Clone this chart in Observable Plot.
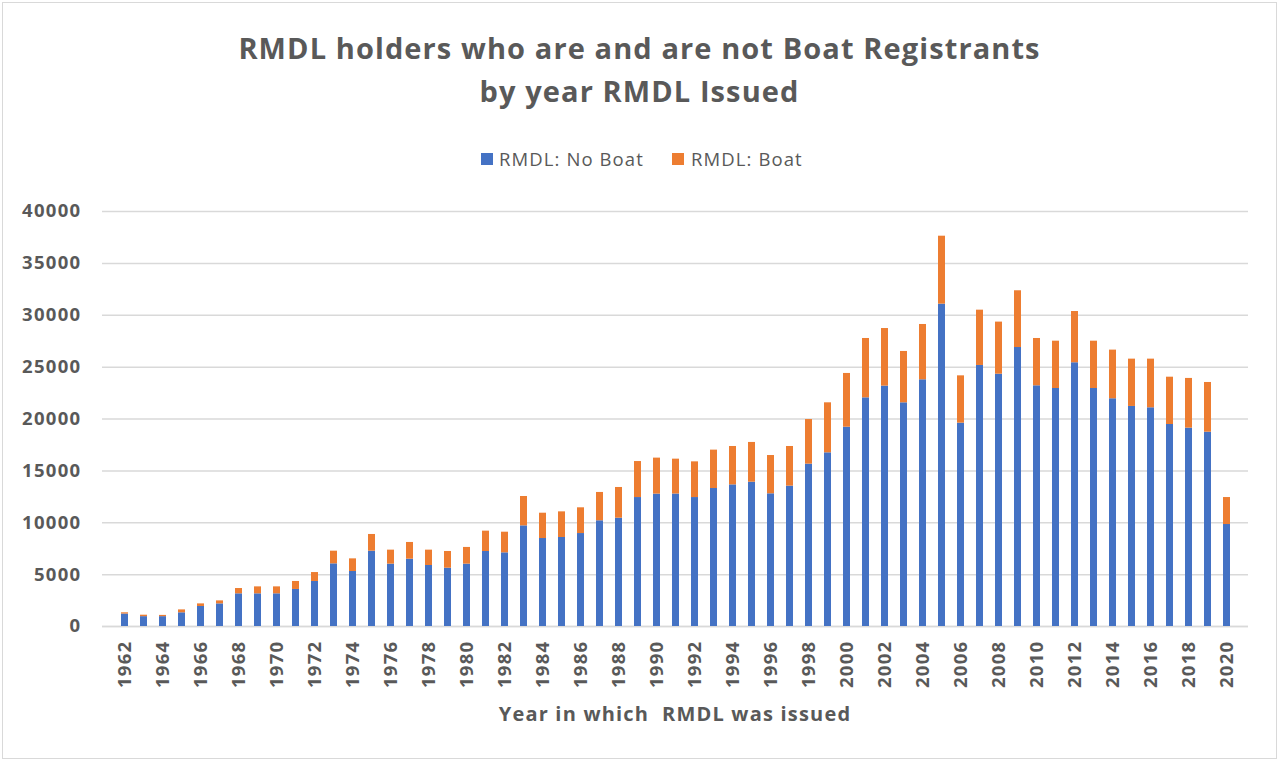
<!DOCTYPE html>
<html>
<head>
<meta charset="utf-8">
<script src="https://cdn.jsdelivr.net/npm/d3@7"></script>
<script src="https://cdn.jsdelivr.net/npm/@observablehq/plot@0.6"></script>
<style>
  body { margin: 0; background: #fff; font-family: "Open Sans", sans-serif; color: #595959; }
  #frame { position: absolute; left: 2px; top: 2px; width: 1275px; height: 757px; border: 1px solid #d9d9d9; box-sizing: border-box; }
  #title { position: absolute; left: 1px; width: 1277px; top: 26px; text-align: center; font-weight: 700; font-size: 29px; line-height: 43px; letter-spacing: 1.1px; }
  .sw { position: absolute; width: 12px; height: 12px; top: 153px; }
  .lt { position: absolute; top: 149px; font-size: 18.5px; line-height: 20px; letter-spacing: 1.1px; white-space: nowrap; }
  #chart { position: absolute; left: 0; top: 190px; }
  #xtitle { position: absolute; left: 0; width: 1350px; top: 702px; text-align: center; white-space: pre; font-weight: 700; font-size: 20px; line-height: 24px; letter-spacing: 1.2px; }
</style>
</head>
<body>
<div id="frame"></div>
<div id="title">RMDL holders who are and are not Boat Registrants<br>by year RMDL Issued</div>
<div id="legend"></div>
<div id="chart"></div>
<div id="xtitle">Year in which  RMDL was issued</div>
<script>
const years = [1962,1963,1964,1965,1966,1967,1968,1969,1970,1971,1972,1973,1974,1975,1976,1977,1978,1979,1980,1981,1982,1983,1984,1985,1986,1987,1988,1989,1990,1991,1992,1993,1994,1995,1996,1997,1998,1999,2000,2001,2002,2003,2004,2005,2006,2007,2008,2009,2010,2011,2012,2013,2014,2015,2016,2017,2018,2019,2020];
const noBoat = [1200,950,950,1320,1930,2180,3150,3150,3150,3570,4340,6040,5300,7260,6010,6490,5880,5620,6010,7230,7100,9700,8480,8580,8960,10190,10440,12430,12760,12770,12430,13300,13650,13910,12790,13530,15650,16740,19210,22040,23170,21560,23780,31070,19600,25160,24320,26890,23200,22940,25420,22940,21950,21210,21080,19470,19120,18730,9830];
const boat = [120,140,120,280,250,290,510,670,670,770,860,1220,1220,1610,1350,1610,1480,1610,1610,1960,1990,2830,2440,2470,2480,2730,2960,3470,3470,3360,3440,3700,3700,3830,3690,3820,4300,4820,5180,5720,5550,4950,5330,6550,4560,5330,5020,5470,4560,4560,4940,4560,4690,4560,4690,4560,4790,4790,2600];
const seriesNames = ["RMDL: No Boat", "RMDL: Boat"];
const seriesColors = ["#4472C4", "#ED7D31"];
const yTicks = [0, 5000, 10000, 15000, 20000, 25000, 30000, 35000, 40000];
const xTickYears = years.filter(y => y % 2 === 0);

const rows = [];
years.forEach((yr, i) => {
  rows.push({year: yr, series: seriesNames[0], value: noBoat[i]});
  rows.push({year: yr, series: seriesNames[1], value: boat[i]});
});

// legend
const legend = document.getElementById("legend");
const legendPos = [{sw: 481, tx: 499}, {sw: 672, tx: 691}];
seriesNames.forEach((name, i) => {
  const s = document.createElement("div");
  s.className = "sw"; s.style.left = legendPos[i].sw + "px"; s.style.background = seriesColors[i];
  const t = document.createElement("div");
  t.className = "lt"; t.style.left = legendPos[i].tx + "px"; t.textContent = name;
  legend.appendChild(s); legend.appendChild(t);
});

const chart = Plot.plot({
  width: 1277,
  height: 572,
  marginTop: 21,
  marginBottom: 136,
  marginLeft: 102,
  marginRight: 29,
  style: {fontFamily: '"Open Sans", sans-serif', fontSize: "18.5px", fontWeight: "700", color: "#595959", background: "transparent", letterSpacing: "1.3px"},
  x: {type: "band", domain: years, paddingInner: 0.655, paddingOuter: 0.3275, align: 0.5},
  y: {domain: [0, 40000]},
  color: {domain: seriesNames, range: seriesColors},
  marks: [
    Plot.gridY(yTicks, {stroke: "#d9d9d9", strokeOpacity: 1, strokeWidth: 1.5}),
    Plot.ruleY([0], {stroke: "#d9d9d9", strokeWidth: 1.5}),
    Plot.barY(rows, Plot.stackY({x: "year", y: "value", fill: "series"})),
    Plot.axisY({ticks: yTicks, tickFormat: "d", tickSize: 0, tickPadding: 21, label: null}),
    Plot.axisX({ticks: xTickYears, tickFormat: d => String(d), tickRotate: -90, tickSize: 0, tickPadding: 14, label: null})
  ]
});
document.getElementById("chart").appendChild(chart);
</script>
</body>
</html>
